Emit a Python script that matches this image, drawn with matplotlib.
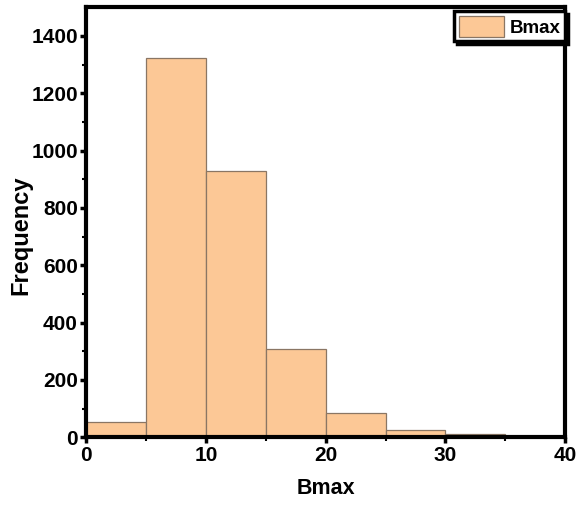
import matplotlib.pyplot as plt
import numpy as np

bin_edges = [0, 5, 10, 15, 20, 25, 30, 35, 40]
counts = [52, 1323, 928, 307, 84, 26, 10, 1]

plt.rcParams['font.family'] = ['Liberation Sans', 'DejaVu Sans']
plt.rcParams['font.weight'] = 'bold'

fig = plt.figure(figsize=(5.82, 5.12), dpi=100)
ax = fig.add_axes([0.148, 0.146, 0.823, 0.840])

lefts = np.array(bin_edges[:-1])
widths = np.diff(bin_edges)
ax.bar(lefts, counts, width=widths, align='edge', color='#fcc896',
       edgecolor='#8a7664', linewidth=0.9, label='Bmax')

ax.set_xlim(0, 40)
ax.set_ylim(0, 1500)
ax.set_xticks([0, 10, 20, 30, 40])
ax.set_xticks([5, 15, 25, 35], minor=True)
ax.set_yticks(range(0, 1401, 200))
ax.set_yticks(range(100, 1500, 200), minor=True)

for s in ax.spines.values():
    s.set_linewidth(3)

ax.tick_params(axis='both', which='major', direction='out', length=4, width=2.5,
               labelsize=15, pad=2)
ax.tick_params(axis='both', which='minor', direction='out', length=3, width=1.5)
for lab in ax.get_xticklabels() + ax.get_yticklabels():
    lab.set_fontweight('bold')

ax.set_xlabel('Bmax', fontsize=15.5, fontweight='bold', labelpad=10)
ax.set_ylabel('Frequency', fontsize=17, fontweight='bold')
ax.yaxis.set_label_coords(-0.112, 0.47)

leg = ax.legend(loc='upper right', bbox_to_anchor=(1.0, 0.99), fontsize=13.5,
                frameon=True, fancybox=False, borderpad=0.25,
                handlelength=2.4, handleheight=1.3, handletextpad=0.3,
                borderaxespad=0.0, shadow={'color': 'black', 'alpha': 1})
leg.get_frame().set_edgecolor('black')
leg.get_frame().set_linewidth(2.5)
for t in leg.get_texts():
    t.set_fontweight('bold')

fig.savefig('out.png', dpi=100)
